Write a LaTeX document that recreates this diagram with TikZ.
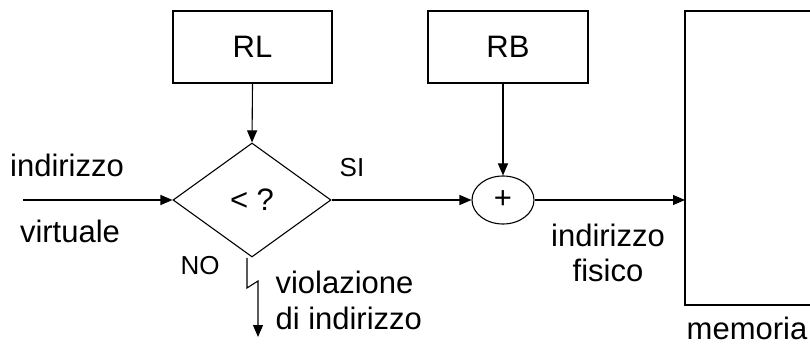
\documentclass[tikz,border=0pt]{standalone}
\usepackage{fontspec}
\setmainfont{Liberation Sans}
\usetikzlibrary{arrows.meta,shapes.geometric}
\begin{document}
\begin{tikzpicture}[x=1pt,y=-1pt,
  line width=1.1pt,
  box/.style={draw,rectangle,inner sep=0pt,font=\fontsize{31}{35}\selectfont},
  lbl/.style={anchor=base,inner sep=0pt,font=\fontsize{31}{35}\selectfont},
  small/.style={anchor=base,inner sep=0pt,font=\fontsize{26}{30}\selectfont},
  arr/.style={-{Triangle[length=12pt,width=10pt]}}]
\useasboundingbox (0,0) rectangle (810,344);
\node[box,minimum width=159pt,minimum height=72pt] (RL) at (252.5,47) {RL};
\node[box,minimum width=160pt,minimum height=72pt] (RB) at (508,47) {RB};
\node[draw,diamond,inner sep=0pt,minimum width=158pt,minimum height=114pt,font=\fontsize{31}{35}\selectfont] (dia) at (252,200) {< ?};
\node[draw,ellipse,inner sep=0pt,minimum width=62pt,minimum height=48pt,font=\fontsize{31}{35}\selectfont] (plus) at (503,200) {+};
\coordinate (memw) at (685,200);
\coordinate (memtl) at (685,11);
\coordinate (membl) at (685,305);
\draw (812,11) -- (memtl) -- (membl) -- (812,305);
\coordinate (in) at (23,200);
\draw[arr] (in) -- (dia.west);
\draw[arr] (RL.south) -- (dia.north);
\draw[arr] (dia.east) -- (plus.west);
\draw[arr] (RB.south -| plus.north) -- (plus.north);
\draw[arr] (plus.east) -- (memw);
\coordinate (noA) at (247,258);
\coordinate (noB) at (247,288);
\coordinate (noC) at (258,281);
\coordinate (noD) at (258,337);
\draw[arr] (noA) -- (noB) -- (noC) -- (noD);
\node[lbl] (t1) at (67,177) {indirizzo};
\node[lbl] (t2) at (70,243) {virtuale};
\node[small] (si) at (352,177) {SI};
\node[small] (no) at (200,275) {NO};
\node[lbl] (f1) at (608,247) {indirizzo};
\node[lbl] (f2) at (608,281) {fisico};
\node[lbl,anchor=base west] (v1) at (275,294) {violazione};
\node[lbl,anchor=base west] (v2) at (275,329) {di indirizzo};
\node[lbl] (mem) at (747,339) {memoria};
\end{tikzpicture}
\end{document}
